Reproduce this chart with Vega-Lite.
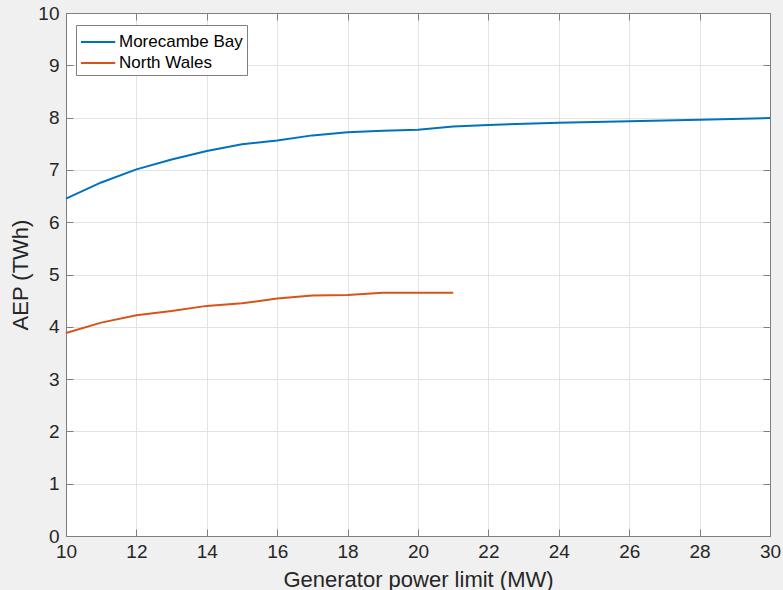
{
  "$schema": "https://vega.github.io/schema/vega-lite/v6.json",
  "width": 704,
  "height": 523,
  "autosize": {"type": "none"},
  "padding": {"left": 66, "top": 13, "right": 13, "bottom": 54},
  "background": "#f0f0f0",
  "config": {
    "font": "Liberation Sans",
    "view": {"fill": "white", "stroke": "#7f7f7f", "strokeWidth": 1},
    "axis": {
      "labelFont": "Liberation Sans",
      "titleFont": "Liberation Sans",
      "labelColor": "#262626",
      "titleColor": "#262626",
      "labelFontSize": 19,
      "titleFontSize": 22,
      "titleFontWeight": "normal",
      "domainColor": "#7f7f7f",
      "tickColor": "#7f7f7f",
      "tickSize": -7,
      "labelFlush": false,
      "labelOverlap": false,
      "gridColor": "#e3e3e3",
      "gridWidth": 1
    }
  },
  "data": {
    "values": [
      {"x": 10, "y": 6.45, "s": "Morecambe Bay"},
      {"x": 11, "y": 6.76, "s": "Morecambe Bay"},
      {"x": 12, "y": 7.01, "s": "Morecambe Bay"},
      {"x": 13, "y": 7.20, "s": "Morecambe Bay"},
      {"x": 14, "y": 7.36, "s": "Morecambe Bay"},
      {"x": 15, "y": 7.49, "s": "Morecambe Bay"},
      {"x": 16, "y": 7.56, "s": "Morecambe Bay"},
      {"x": 17, "y": 7.66, "s": "Morecambe Bay"},
      {"x": 18, "y": 7.72, "s": "Morecambe Bay"},
      {"x": 19, "y": 7.75, "s": "Morecambe Bay"},
      {"x": 20, "y": 7.77, "s": "Morecambe Bay"},
      {"x": 21, "y": 7.83, "s": "Morecambe Bay"},
      {"x": 22, "y": 7.86, "s": "Morecambe Bay"},
      {"x": 24, "y": 7.90, "s": "Morecambe Bay"},
      {"x": 26, "y": 7.93, "s": "Morecambe Bay"},
      {"x": 28, "y": 7.96, "s": "Morecambe Bay"},
      {"x": 30, "y": 7.99, "s": "Morecambe Bay"},
      {"x": 10, "y": 3.88, "s": "North Wales"},
      {"x": 11, "y": 4.08, "s": "North Wales"},
      {"x": 12, "y": 4.22, "s": "North Wales"},
      {"x": 13, "y": 4.30, "s": "North Wales"},
      {"x": 14, "y": 4.40, "s": "North Wales"},
      {"x": 15, "y": 4.45, "s": "North Wales"},
      {"x": 16, "y": 4.54, "s": "North Wales"},
      {"x": 17, "y": 4.60, "s": "North Wales"},
      {"x": 18, "y": 4.61, "s": "North Wales"},
      {"x": 19, "y": 4.65, "s": "North Wales"},
      {"x": 20, "y": 4.65, "s": "North Wales"},
      {"x": 21, "y": 4.65, "s": "North Wales"}
    ]
  },
  "layer": [
    {
      "mark": {"type": "line", "strokeWidth": 2},
      "encoding": {
        "x": {
          "field": "x", "type": "quantitative",
          "scale": {"domain": [10, 30], "nice": false, "zero": false},
          "axis": {"values": [10,12,14,16,18,20,22,24,26,28,30], "title": "Generator power limit (MW)", "labelPadding": 13, "titlePadding": 8}
        },
        "y": {
          "field": "y", "type": "quantitative",
          "scale": {"domain": [0, 10], "nice": false},
          "axis": {"values": [0,1,2,3,4,5,6,7,8,9,10], "title": "AEP (TWh)", "labelPadding": 14, "titlePadding": 5}
        },
        "color": {
          "field": "s", "type": "nominal",
          "scale": {"domain": ["Morecambe Bay", "North Wales"], "range": ["#0072BD", "#D95319"]},
          "legend": {
            "title": null,
            "orient": "none",
            "legendX": 10,
            "legendY": 12,
            "symbolType": "M-1,0H1.85",
            "symbolSize": 576,
            "symbolStrokeWidth": 2,
            "symbolFillColor": "transparent",
            "labelFontSize": 17,
            "labelColor": "#000000",
            "labelFont": "Liberation Sans",
            "fillColor": "white",
            "strokeColor": "#7f7f7f",
            "padding": 4,
            "rowPadding": -3,
            "labelOffset": 13
          }
        }
      }
    },
    {
      "mark": {"type": "line", "opacity": 0},
      "encoding": {
        "x": {"field": "x", "type": "quantitative", "scale": {"domain": [10, 30], "nice": false, "zero": false},
          "axis": {"orient": "top", "values": [10,12,14,16,18,20,22,24,26,28,30], "labels": false, "title": null, "grid": false}},
        "y": {"field": "y", "type": "quantitative", "scale": {"domain": [0, 10], "nice": false},
          "axis": {"orient": "right", "values": [0,1,2,3,4,5,6,7,8,9,10], "labels": false, "title": null, "grid": false}},
        "detail": {"field": "s"}
      }
    }
  ],
  "resolve": {"axis": {"x": "independent", "y": "independent"}}
}
